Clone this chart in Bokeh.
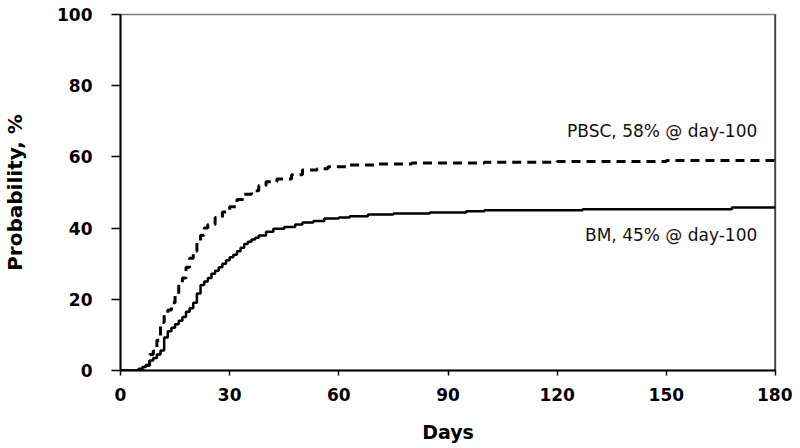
from bokeh.plotting import figure
from bokeh.models import Range1d, FixedTicker, Span, Label
from bokeh.embed import file_html
from bokeh.resources import INLINE

# PBSC (dashed) cumulative incidence, step function
pbsc_days = [0, 7, 8, 9, 10, 11, 12, 13, 14, 15, 16, 17, 18, 19, 20, 21, 22, 23, 24, 26, 28, 30,
             32, 34, 36, 38, 40, 43, 47, 50, 54, 57, 62, 70, 80, 100, 120, 150, 180]
pbsc_prob = [0, 1.5, 4.5, 5.5, 8.5, 13.5, 16, 17, 19, 21.5, 24.5, 26, 29, 31.5, 33.5, 36, 38, 40, 41, 43, 44.5, 46,
             48, 49.5, 50.5, 52, 53, 53.8, 55, 56.3, 56.7, 57.2, 57.7, 58, 58.3, 58.5, 58.7, 59, 59.2]

# BM (solid) cumulative incidence, step function
bm_days = [0, 5, 6, 7, 8, 9, 10, 11, 12, 13, 14, 15, 16, 17, 18, 19, 20, 21, 22, 23, 24, 25, 26, 27, 28, 29,
           30, 31, 32, 33, 34, 35, 36, 37, 38, 40, 42, 45, 48, 50, 53, 56, 60, 63, 68, 75, 85, 95, 100, 127, 168, 180]
bm_prob = [0, 0.5, 1, 1.5, 2.8, 3.5, 4.5, 5.6, 9.3, 11, 12, 13, 14, 15, 16.5, 17.5, 19, 21.6, 24, 25, 26, 27.2, 28, 29, 30, 31,
           31.8, 32.5, 33.5, 34.5, 35.5, 36.2, 36.8, 37.3, 37.9, 39, 39.8, 40.3, 41, 41.6, 42, 42.7, 43, 43.3, 43.8, 44.1, 44.4, 44.7, 45, 45.3, 45.8, 45.8]

x_ticks = [0, 30, 60, 90, 120, 150, 180]
y_ticks = [0, 20, 40, 60, 80, 100]
labels = ["PBSC, 58% @ day-100", "BM, 45% @ day-100"]
label_y = [67.4, 38.2]

FONT = "DejaVu Sans"

p = figure(width=792, height=448, output_backend="svg", toolbar_location=None,
           x_range=Range1d(0, 180), y_range=Range1d(0, 100),
           min_border_left=118, min_border_right=17, min_border_top=14, min_border_bottom=78)
p.background_fill_color = "white"
p.border_fill_color = "white"
p.outline_line_color = "#808080"
p.outline_line_width = 1.5
p.grid.visible = False

p.step(bm_days, bm_prob, mode="after", line_color="black", line_width=2.5)
p.step(pbsc_days, pbsc_prob, mode="after", line_color="black", line_width=3, line_dash="9 6")

p.add_layout(Span(location=180, dimension="height", line_color="black", line_width=2))

for t, yy in zip(labels, label_y):
    p.add_layout(Label(x=175, y=yy, text=t, text_align="right", text_baseline="middle",
                       text_font=FONT, text_font_size="17px", text_color="#111111"))

for ax in (p.xaxis[0], p.yaxis[0]):
    ax.axis_line_color = "black"
    ax.axis_line_width = 2
    ax.major_tick_line_color = "black"
    ax.major_tick_line_width = 1.5
    ax.major_tick_in = 0
    ax.minor_tick_line_color = None
    ax.major_label_text_font = FONT
    ax.major_label_text_font_style = "bold"
    ax.major_label_text_font_size = "17px"
    ax.major_label_text_color = "black"
    ax.axis_label_text_font = FONT
    ax.axis_label_text_font_style = "bold"
    ax.axis_label_text_color = "black"

p.xaxis.axis_label_text_font_size = "19px"
p.yaxis.axis_label_text_font_size = "20px"
p.xaxis.ticker = FixedTicker(ticks=x_ticks)
p.yaxis.ticker = FixedTicker(ticks=y_ticks)
p.xaxis.major_tick_out = 5
p.yaxis.major_tick_out = 9
p.xaxis.axis_label = "Days"
p.yaxis.axis_label = "Probability, %"
p.xaxis.major_label_standoff = 12
p.yaxis.major_label_standoff = 19
p.xaxis.axis_label_standoff = 17
p.yaxis.axis_label_standoff = 27

open("out.html", "w").write(file_html(p, INLINE))
